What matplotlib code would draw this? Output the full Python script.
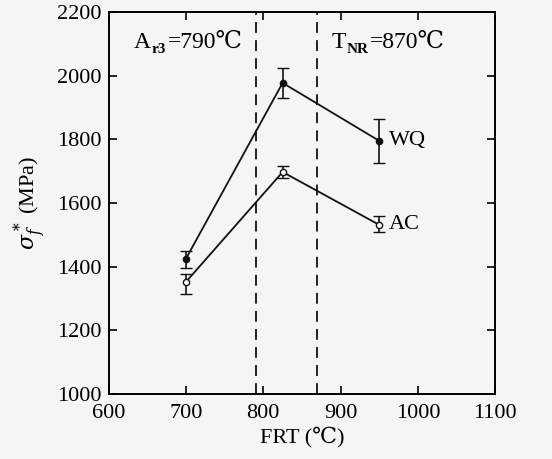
import matplotlib.pyplot as plt

# --- data ---
frt = [700, 825, 950]
wq = [1425, 1977, 1795]
wq_lo = [1395, 1930, 1726]
wq_hi = [1450, 2024, 1864]
ac = [1352, 1697, 1531]
ac_lo = [1314, 1678, 1509]
ac_hi = [1378, 1716, 1559]
ar3 = 790
tnr = 870
xticks = [600, 700, 800, 900, 1000, 1100]
yticks = [1000, 1200, 1400, 1600, 1800, 2000, 2200]

plt.rcParams['font.family'] = ['Liberation Serif', 'DejaVu Serif']
plt.rcParams['mathtext.fontset'] = 'dejavuserif'

fig = plt.figure(figsize=(5.52, 4.59), dpi=100, facecolor='#f5f5f3')
ax = fig.add_axes([0.197, 0.142, 0.70, 0.832])
ax.set_facecolor('#f5f5f3')

def err(v, lo, hi):
    return [[a - b for a, b in zip(v, lo)], [c - a for a, c in zip(v, hi)]]

ax.errorbar(frt, wq, yerr=err(wq, wq_lo, wq_hi), color='#111111', lw=1.3,
            marker='o', ms=4.5, mfc='#111111', capsize=4, elinewidth=1.2)
ax.errorbar(frt, ac, yerr=err(ac, ac_lo, ac_hi), color='#111111', lw=1.3,
            marker='o', ms=4.5, mfc='white', capsize=4, elinewidth=1.2)

ax.axvline(ar3, color='#111111', ls=(0, (6, 4)), lw=1.3)
ax.axvline(tnr, color='#111111', ls=(0, (6, 4)), lw=1.3)

ax.text(frt[-1] + 12, wq[-1], 'WQ', fontsize=16, va='center')
ax.text(frt[-1] + 12, ac[-1], 'AC', fontsize=16, va='center')


def sub_label(x, y, main, sub, rest):
    t1 = ax.text(x, y, main, fontsize=17, va='bottom')
    t2 = ax.annotate(sub, xy=(1, 0), xycoords=t1, xytext=(0.5, -2),
                     textcoords='offset points', fontsize=11, va='bottom',
                     fontweight='bold')
    ax.annotate(rest, xy=(1, 0), xycoords=(t2, t1), xytext=(1, 0),
                textcoords='offset points', fontsize=17, va='bottom')


sub_label(633, 2070, 'A', 'r3', '=790℃')
sub_label(888, 2070, 'T', 'NR', '=870℃')

ax.set_xlim(600, 1100)
ax.set_ylim(1000, 2200)
ax.set_xticks(xticks)
ax.set_yticks(yticks)
ax.tick_params(direction='in', top=True, right=True, labelsize=16, length=6, width=1.2)
ax.tick_params(axis='x', pad=7)
ax.tick_params(axis='y', pad=5)
for s in ax.spines.values():
    s.set_linewidth(1.4)
ax.set_xlabel('FRT (℃)', fontsize=16, labelpad=3)
ax.set_ylabel(r'$\sigma_f^*$ (MPa)', fontsize=16, labelpad=6)

fig.savefig('out.png', dpi=100, facecolor=fig.get_facecolor())
